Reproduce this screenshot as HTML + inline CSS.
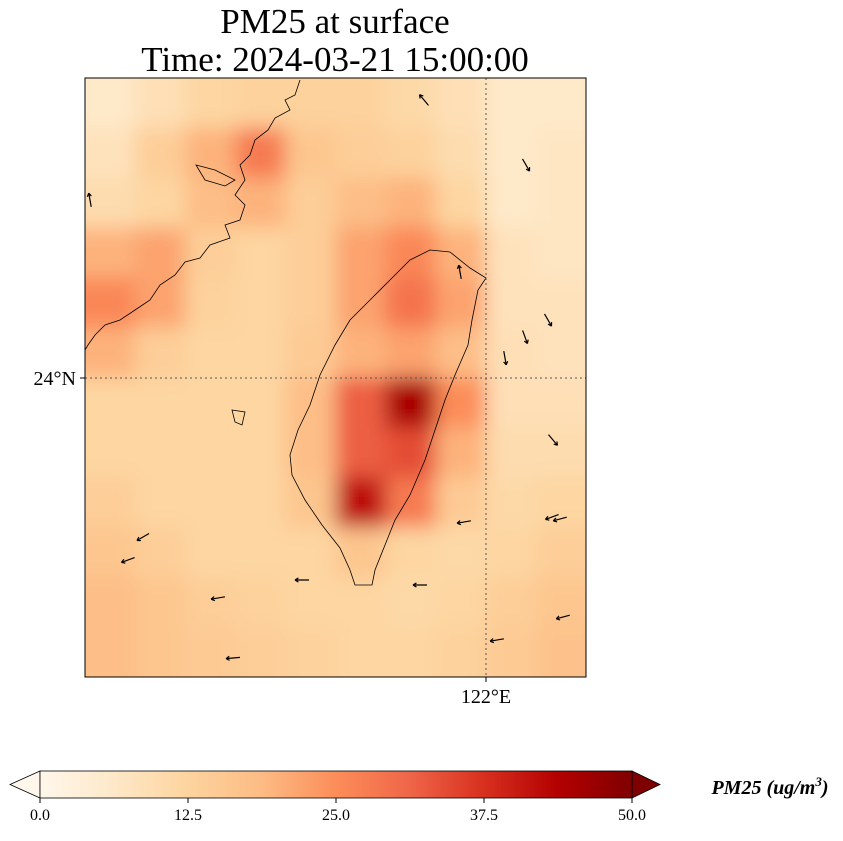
<!DOCTYPE html>
<html><head><meta charset="utf-8"><style>
body{margin:0;background:#fff;width:843px;height:836px;overflow:hidden;font-family:"Liberation Serif",serif}
</style></head><body>
<svg width="843" height="836" xmlns="http://www.w3.org/2000/svg">
<defs>
<linearGradient id="cmap" x1="0" x2="1" y1="0" y2="0">
<stop offset="0" stop-color="#fff7ec"/><stop offset="0.125" stop-color="#fee8c8"/>
<stop offset="0.25" stop-color="#fdd49e"/><stop offset="0.375" stop-color="#fdbb84"/>
<stop offset="0.5" stop-color="#fc8d59"/><stop offset="0.625" stop-color="#ef6548"/>
<stop offset="0.75" stop-color="#d7301f"/><stop offset="0.875" stop-color="#b30000"/>
<stop offset="1" stop-color="#7f0000"/></linearGradient>
<clipPath id="mapclip"><rect x="85" y="78" width="501" height="599"/></clipPath>
<filter id="soft" x="-10%" y="-10%" width="120%" height="120%"><feGaussianBlur stdDeviation="10"/></filter>
</defs>
<text x="335" y="33" font-size="35" text-anchor="middle">PM25 at surface</text>
<text x="335" y="71" font-size="35" text-anchor="middle">Time: 2024-03-21 15:00:00</text>
<g id="heat" clip-path="url(#mapclip)"><g id="cells" filter="url(#soft)"></g></g>
<g clip-path="url(#mapclip)" fill="none" stroke="#000" stroke-width="0.8">
<path d="M430,250 L450,252 L470,268 L486,278 L478,290 L472,320 L468,345 L455,375 L445,400 L435,430 L425,460 L410,495 L395,520 L385,545 L375,570 L372,585 L355,585 L350,570 L340,548 L322,525 L305,500 L292,475 L290,455 L298,430 L310,405 L320,375 L335,345 L350,320 L370,300 L390,280 L410,260 Z"/>
<path d="M300,80 L295,95 L285,100 L290,110 L275,118 L268,130 L255,140 L250,155 L240,165 L245,180 L235,195 L245,205 L240,220 L225,225 L230,238 L210,245 L200,258 L185,262 L175,275 L160,285 L150,300 L135,310 L120,320 L105,325 L95,335 L88,345 L85,350"/>
<path d="M232,410 L245,412 L242,425 L235,422 Z"/>
<path d="M196,165 L215,170 L235,180 L225,186 L205,180 Z"/>
</g>
<g stroke="#555" stroke-width="1" stroke-dasharray="2,3">
<line x1="486" y1="78" x2="486" y2="677"/>
<line x1="85" y1="378" x2="586" y2="378"/>
</g>
<g id="arrows" stroke="#000" stroke-width="1.2"></g>
<rect x="85" y="78" width="501" height="599" fill="none" stroke="#000" stroke-width="1"/>
<line x1="80" y1="378" x2="85" y2="378" stroke="#000"/>
<text x="76" y="385" font-size="20" text-anchor="end">24°N</text>
<line x1="486" y1="677" x2="486" y2="682" stroke="#000"/>
<text x="486" y="703" font-size="20" text-anchor="middle">122°E</text>
<g>
<polygon points="40,771 10,784.5 40,798" fill="#fff7ec" stroke="#000" stroke-width="0.8"/>
<polygon points="632,771 660,784.5 632,798" fill="#7f0000" stroke="#000" stroke-width="0.8"/>
<rect x="40" y="771" width="592" height="27" fill="url(#cmap)" stroke="#000" stroke-width="0.8"/>
<g id="cbticks" font-size="16" text-anchor="middle"></g>
<text x="770" y="794" font-size="20" font-weight="bold" font-style="italic" text-anchor="middle">PM25 (ug/m<tspan font-size="13" dy="-8">3</tspan><tspan dy="8">)</tspan></text>
</g>
</svg>
<script>
const gridValues = [
[6,9,12,13,13,13,11,9,6,6],
[8,14,20,28,16,14,13,10,6,7],
[10,12,18,20,14,18,20,12,6,7],
[20,22,14,12,14,22,26,20,8,7],
[26,22,13,12,14,22,29,22,8,8],
[20,14,12,12,15,20,22,18,9,8],
[12,12,12,12,18,32,45,25,9,9],
[12,12,12,12,18,32,34,20,10,10],
[14,12,12,12,16,42,28,15,11,12],
[16,14,12,12,12,16,12,11,12,14],
[18,16,14,13,12,12,11,12,14,16],
[18,16,15,14,13,12,12,13,15,17]];
const cbTicks = [0,12.5,25,37.5,50];
const arrowX = [424,526,548,460,525,505,553,552,464,560,563,143,128,218,233,302,420,497,90];
const arrowY = [100,165,320,272,337,358,440,517,522,519,617,537,560,598,658,580,585,640,200];
const arrowAng = [-130,60,60,-100,70,80,50,160,170,165,165,150,160,170,175,180,180,170,-100];
const ns="http://www.w3.org/2000/svg";
const X0=85,Y0=78,W=501,H=599,vmax=50;
const stops=[[255,247,236],[254,232,200],[253,212,158],[253,187,132],[252,141,89],[239,101,72],[215,48,31],[179,0,0],[127,0,0]];
function color(v){let t=Math.max(0,Math.min(1,v/vmax))*8,i=Math.min(7,Math.floor(t)),f=t-i;
const a=stops[i],b=stops[i+1];return `rgb(${a.map((c,k)=>Math.round(c+(b[k]-c)*f)).join(',')})`;}
const rows=gridValues.length,cols=gridValues[0].length,cw=W/cols,ch=H/rows;
const cells=document.getElementById('cells');
gridValues.forEach((row,r)=>row.forEach((v,c)=>{
 const e=document.createElementNS(ns,'rect');
 e.setAttribute('x',X0+c*cw-(c==0?30:0));e.setAttribute('y',Y0+r*ch-(r==0?30:0));
 e.setAttribute('width',cw+(c==0||c==cols-1?30:0)+1);e.setAttribute('height',ch+(r==0||r==rows-1?30:0)+1);
 e.setAttribute('fill',color(v));
 
 
 cells.appendChild(e);}));
const ag=document.getElementById('arrows');
arrowX.forEach((x,i)=>{const a=arrowAng[i]*Math.PI/180,L=14,dx=Math.cos(a)*L/2,dy=Math.sin(a)*L/2;
 const p=document.createElementNS(ns,'path');
 const hx=x+dx,hy=arrowY[i]+dy;
 const h1=a+2.6,h2=a-2.6;
 p.setAttribute('d',`M${x-dx},${arrowY[i]-dy} L${hx},${hy} M${hx},${hy} L${hx+Math.cos(h1)*4},${hy+Math.sin(h1)*4} M${hx},${hy} L${hx+Math.cos(h2)*4},${hy+Math.sin(h2)*4}`);
 
 
 ag.appendChild(p);});
const tg=document.getElementById('cbticks');
cbTicks.forEach(v=>{const x=40+592*v/vmax;
 const l=document.createElementNS(ns,'line');l.setAttribute('x1',x);l.setAttribute('x2',x);l.setAttribute('y1',798);l.setAttribute('y2',803);l.setAttribute('stroke','#000');tg.appendChild(l);
 const t=document.createElementNS(ns,'text');t.setAttribute('x',x);t.setAttribute('y',820);t.textContent=v.toFixed(1);
 
 
 tg.appendChild(t);});
</script>
</body></html>
